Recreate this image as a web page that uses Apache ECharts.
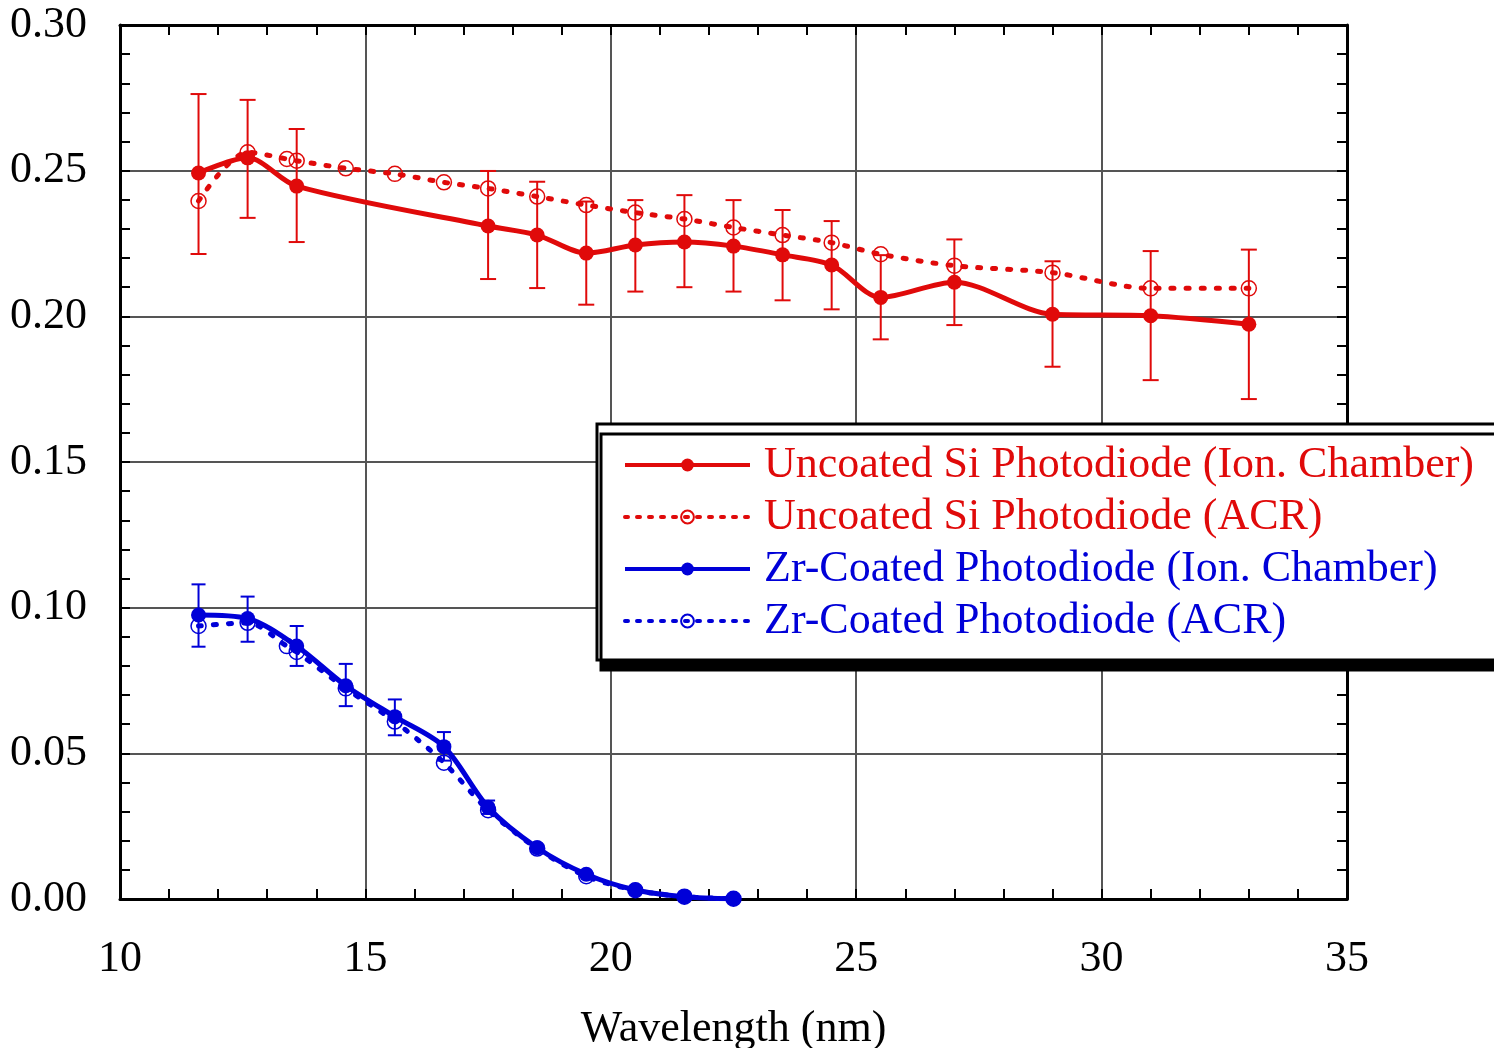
<!DOCTYPE html>
<html>
<head>
<meta charset="utf-8">
<script src="https://cdn.jsdelivr.net/npm/echarts@6/dist/echarts.min.js"></script>
<style>
html,body{margin:0;padding:0;background:#fff;overflow:hidden;}
#chart{width:1494px;height:1048px;}
</style>
</head>
<body>
<div id="chart"></div>
<script>
// ---- data ----
var seriesNames = [
  'Uncoated Si Photodiode (Ion. Chamber)',
  'Uncoated Si Photodiode (ACR)',
  'Zr-Coated Photodiode (Ion. Chamber)',
  'Zr-Coated Photodiode (ACR)'
];
var xTicks = [10, 15, 20, 25, 30, 35];
var yTicks = [0.00, 0.05, 0.10, 0.15, 0.20, 0.25, 0.30];

var redIonX  = [11.6, 12.6, 13.6, 17.5, 18.5, 19.5, 20.5, 21.5, 22.5, 23.5, 24.5, 25.5, 27, 29, 31, 33];
var redIonY  = [0.2492, 0.2544, 0.2447, 0.2310, 0.2279, 0.2217, 0.2245, 0.2255, 0.2241, 0.2211, 0.2176, 0.2065, 0.2117, 0.2007, 0.2002, 0.1973];
var redIonLo = [0.2214, 0.2338, 0.2255, 0.2128, 0.2097, 0.2040, 0.2085, 0.2100, 0.2085, 0.2055, 0.2024, 0.1921, 0.1970, 0.1827, 0.1781, 0.1716];
var redIonHi = [0.2763, 0.2743, 0.2643, 0.2499, 0.2462, 0.2394, 0.2399, 0.2416, 0.2399, 0.2365, 0.2327, 0.2210, 0.2264, 0.2189, 0.2224, 0.2229];

var redAcrX = [11.6, 12.6, 13.4, 13.6, 14.6, 15.6, 16.6, 17.5, 18.5, 19.5, 20.5, 21.5, 22.5, 23.5, 24.5, 25.5, 27, 29, 31, 33];
var redAcrY = [0.2396, 0.2563, 0.2540, 0.2534, 0.2508, 0.2489, 0.2460, 0.2439, 0.2411, 0.2382, 0.2356, 0.2334, 0.2305, 0.2279, 0.2253, 0.2213, 0.2174, 0.2150, 0.2096, 0.2096];

var blueIonX  = [11.6, 12.6, 13.6, 14.6, 15.6, 16.6, 17.5, 18.5, 19.5, 20.5, 21.5, 22.5];
var blueIonY  = [0.0975, 0.0963, 0.0868, 0.0732, 0.0626, 0.0523, 0.0315, 0.0176, 0.0085, 0.0031, 0.0008, 0.0001];
var blueIonLo = [0.0866, 0.0883, 0.0800, 0.0662, 0.0562, 0.0475, 0.0292, 0.0166, 0.0080, 0.0029, 0.0007, 0.0001];
var blueIonHi = [0.1080, 0.1038, 0.0937, 0.0807, 0.0685, 0.0573, 0.0338, 0.0186, 0.0090, 0.0033, 0.0009, 0.0001];

var blueAcrX = [11.6, 12.6, 13.4, 13.6, 14.6, 15.6, 16.6, 17.5, 18.5, 19.5, 20.5, 21.5, 22.5];
var blueAcrY = [0.0937, 0.0948, 0.0868, 0.0848, 0.0723, 0.0609, 0.0468, 0.0305, 0.0173, 0.0078, 0.0030, 0.0008, 0.0001];

// ---- build ----
var RED = '#e00a0a';
var BLUE = '#0000d8';
var FONT = 'Liberation Serif, Times New Roman, serif';

function zip(xs, ys) { return xs.map(function (x, i) { return [x, ys[i]]; }); }
function zip3(xs, lo, hi) { return xs.map(function (x, i) { return [x, lo[i], hi[i]]; }); }

function errRender(color, half, lw) {
  return function (params, api) {
    var x = api.value(0);
    var a = api.coord([x, api.value(1)]);
    var b = api.coord([x, api.value(2)]);
    var st = { stroke: color, lineWidth: lw };
    return {
      type: 'group',
      children: [
        { type: 'line', shape: { x1: a[0], y1: a[1], x2: b[0], y2: b[1] }, style: st },
        { type: 'line', shape: { x1: a[0] - half, y1: a[1], x2: a[0] + half, y2: a[1] }, style: st },
        { type: 'line', shape: { x1: b[0] - half, y1: b[1], x2: b[0] + half, y2: b[1] }, style: st }
      ]
    };
  };
}

var chart = echarts.init(document.getElementById('chart'), null, { renderer: 'canvas', width: 1494, height: 1048 });

var tickCommon = { show: true, inside: true, length: 10, lineStyle: { color: '#000', width: 2 } };
var minorCommon = { show: true, splitNumber: 5, length: 10, lineStyle: { color: '#000', width: 2 } };
var axisLineCommon = { show: true, onZero: false, lineStyle: { color: '#000', width: 3 } };

var option = {
  backgroundColor: '#fff',
  animation: false,
  grid: { left: 120, width: 1227, top: 25, height: 874, containLabel: false, outerBoundsMode: 'none' },
  xAxis: [
    {
      type: 'value', min: xTicks[0], max: xTicks[xTicks.length - 1], interval: 5,
      position: 'bottom',
      name: 'Wavelength (nm)', nameLocation: 'middle', nameGap: 108,
      nameTextStyle: { fontFamily: FONT, fontSize: 44, color: '#000' },
      axisLine: axisLineCommon, axisTick: tickCommon, minorTick: minorCommon,
      splitLine: { show: true, lineStyle: { color: '#555', width: 2 } },
      axisLabel: { fontFamily: FONT, fontSize: 44, color: '#000', margin: 38 }
    },
    {
      type: 'value', min: xTicks[0], max: xTicks[xTicks.length - 1], interval: 5,
      position: 'top',
      axisLine: axisLineCommon, axisTick: tickCommon, minorTick: minorCommon,
      splitLine: { show: false }, axisLabel: { show: false }
    }
  ],
  yAxis: [
    {
      type: 'value', min: yTicks[0], max: yTicks[yTicks.length - 1], interval: 0.05,
      position: 'left',
      axisLine: axisLineCommon, axisTick: tickCommon, minorTick: minorCommon,
      splitLine: { show: true, lineStyle: { color: '#555', width: 2 } },
      axisLabel: {
        fontFamily: FONT, fontSize: 44, color: '#000', margin: 33,
        formatter: function (v) { return v.toFixed(2); }
      }
    },
    {
      type: 'value', min: yTicks[0], max: yTicks[yTicks.length - 1], interval: 0.05,
      position: 'right',
      axisLine: axisLineCommon, axisTick: tickCommon, minorTick: minorCommon,
      splitLine: { show: false }, axisLabel: { show: false }
    }
  ],
  legend: {
    orient: 'vertical',
    left: 597, top: 424,
    padding: [19, 40, 17, 26],
    itemWidth: 125, itemHeight: 16, itemGap: 8,
    backgroundColor: '#fff',
    borderColor: '#000', borderWidth: 3, borderRadius: 0,
    shadowColor: '#000', shadowBlur: 0, shadowOffsetX: 4, shadowOffsetY: 10,
    selectedMode: false,
    lineStyle: { width: 4 },
    textStyle: { fontFamily: FONT, fontSize: 44, lineHeight: 43, padding: [0, 0, 0, 9] }
  },
  series: [
    {
      name: 'redErr', type: 'custom', renderItem: errRender(RED, 8, 2),
      data: zip3(redIonX, redIonLo, redIonHi), encode: { x: 0, y: [1, 2] }, z: 1, silent: true
    },
    {
      name: 'blueErr', type: 'custom', renderItem: errRender(BLUE, 7, 2),
      data: zip3(blueIonX, blueIonLo, blueIonHi), encode: { x: 0, y: [1, 2] }, z: 1, silent: true
    },
    {
      name: seriesNames[1], type: 'line', smooth: 0.3,
      data: zip(redAcrX, redAcrY),
      symbol: 'circle', symbolSize: 15,
      lineStyle: { color: RED, width: 5, type: [3, 12], cap: 'round' },
      itemStyle: { color: 'rgba(255,255,255,0)', borderColor: RED, borderWidth: 1.5 },
      z: 2
    },
    {
      name: seriesNames[0], type: 'line', smooth: 0.3,
      data: zip(redIonX, redIonY),
      symbol: 'circle', symbolSize: 15,
      lineStyle: { color: RED, width: 5 },
      itemStyle: { color: RED, borderWidth: 0 },
      z: 3
    },
    {
      name: seriesNames[3], type: 'line', smooth: 0.3,
      data: zip(blueAcrX, blueAcrY),
      symbol: 'circle', symbolSize: 15,
      lineStyle: { color: BLUE, width: 5, type: [3, 12], cap: 'round' },
      itemStyle: { color: 'rgba(255,255,255,0)', borderColor: BLUE, borderWidth: 1.5 },
      z: 4
    },
    {
      name: seriesNames[2], type: 'line', smooth: 0.3,
      data: zip(blueIonX, blueIonY),
      symbol: 'circle', symbolSize: 15,
      lineStyle: { color: BLUE, width: 5 },
      itemStyle: { color: BLUE, borderWidth: 0 },
      z: 5
    }
  ]
};

// legend entries: text colour follows series, thicker icon lines
option.legend.data = seriesNames.map(function (n, i) {
  var c = i < 2 ? RED : BLUE;
  var dotted = (i % 2) === 1;
  return {
    name: n,
    lineStyle: { color: c, width: 4, type: dotted ? [3, 9] : 'solid', cap: dotted ? 'round' : 'butt' },
    textStyle: { color: c, fontFamily: FONT, fontSize: 44, lineHeight: 43, padding: [0, 0, 0, 9] }
  };
});

chart.setOption(option);
</script>
</body>
</html>
